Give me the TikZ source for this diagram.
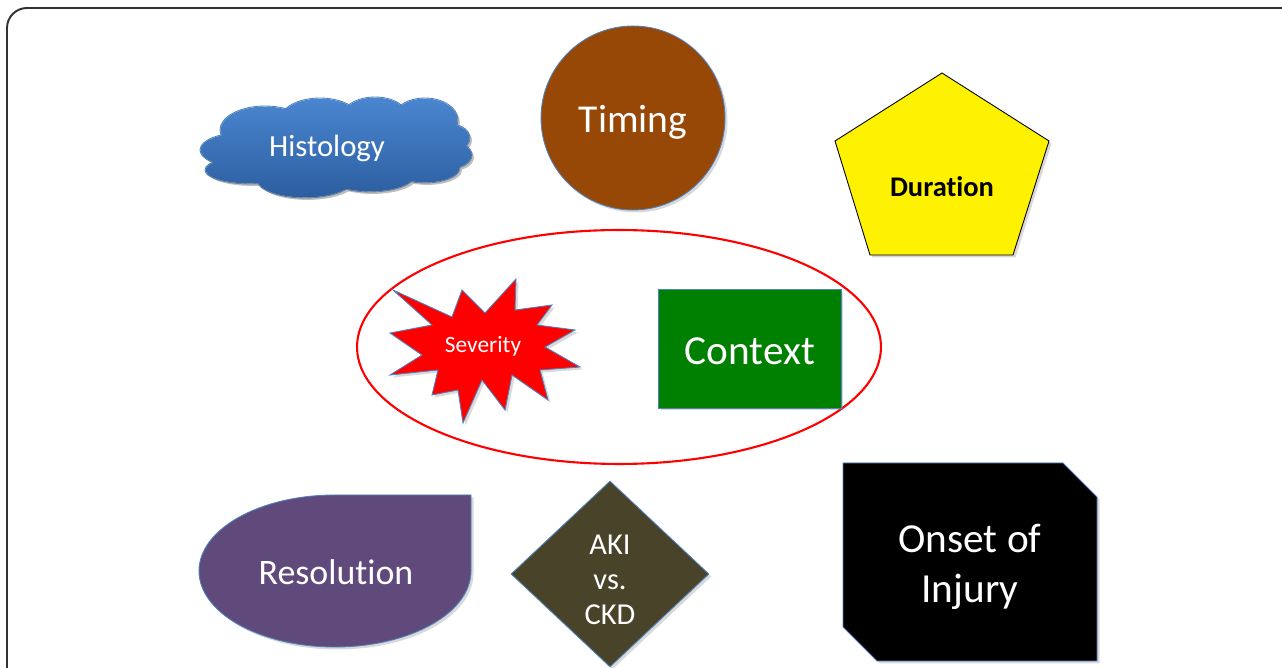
\documentclass[tikz,border=0pt]{standalone}
\usepackage{fontspec}
\setmainfont[Ligatures=NoCommon]{Carlito}
\usetikzlibrary{
  shapes.geometric,
  shadows,
}

\definecolor{cloudtop}{RGB}{74,134,208}
\definecolor{cloudbot}{RGB}{44,94,160}
\definecolor{timingbrown}{RGB}{151,71,6}
\definecolor{contextgreen}{RGB}{0,128,0}
\definecolor{resolvepurple}{RGB}{96,74,123}
\definecolor{akiolive}{RGB}{73,68,41}
\definecolor{edgeblue}{RGB}{79,129,189}
\definecolor{framegray}{RGB}{50,50,50}

\begin{document}
\begin{tikzpicture}[
  x=0.02cm, y=-0.02cm,
  edge/.style={draw=edgeblue, line width=0.5pt},
  shade/.style={drop shadow={opacity=0.3, shadow xshift=0.05cm, shadow yshift=-0.05cm}},
  whitetext/.style={text=white, align=center},
  bigfont/.style={font=\fontsize{22.5}{28}\selectfont},
]
   \useasboundingbox (0,0) rectangle (1282,668);
   \draw[framegray, line width=1.1pt, rounded corners=0.4cm] (7,8) rectangle (1320,700);

   % cloud built from puffs
   \def\puffs{240/150/40/17, 250/170/45/14, 265/130/45/24, 320/120/40/22, 375/117/33/20,
     425/120/33/22, 450/138/20/14, 450/155/22/14, 425/168/35/15, 370/175/45/17,
     305/180/48/18, 340/150/100/35}
   \foreach \px/\py/\rx/\ry in \puffs
     \draw[edge] (\px,\py) ellipse [x radius=\rx, y radius=\ry];
   \shade[top color=cloudtop, bottom color=cloudbot, shade]
     \foreach \px/\py/\rx/\ry in \puffs {(\px,\py) ellipse [x radius=\rx-0.6, y radius=\ry-0.6]};
   \node[whitetext, font=\fontsize{17.5}{21}\selectfont] (histology) at (327,148) {Histology};

   \node[circle, minimum size=3.68cm, edge, fill=timingbrown, shade] (disc) at (633,118) {};
   \node[whitetext, bigfont] (timing) at (633,122) {Timing};

   \draw[black, line width=0.5pt, fill=yellow, shade]
     (942,73) -- (1049,141) -- (1013,255) -- (870,255) -- (835,141) -- cycle;
   \node[font=\bfseries\fontsize{16.2}{20}\selectfont] (duration) at (942,187) {Duration};

   \node[ellipse, draw=red, line width=1.2pt, minimum width=10.48cm, minimum height=4.68cm]
     (core) at (619,347) {};

   \draw[edge, fill=red, shade]
     (393,290) -- (452,317) -- (462,290) -- (485,313) -- (516,279) -- (515,310)
     -- (552,305) -- (537,325) -- (575,330) -- (545,347) -- (580,367) -- (540,370)
     -- (548,400) -- (512,375) -- (505,410) -- (482,380) -- (463,423) -- (458,390)
     -- (432,395) -- (438,370) -- (390,375) -- (422,355) -- (390,333) -- (432,325) -- cycle;
   \node[whitetext, font=\fontsize{13.3}{16}\selectfont] (severity) at (483,346) {Severity};

   \node[rectangle, minimum width=3.66cm, minimum height=2.38cm, edge, fill=contextgreen,
     shade] (box) at (749.5,348.5) {};
   \node[whitetext, font=\fontsize{23.5}{28}\selectfont] (context) at (750,351) {Context};

   \draw[edge, fill=resolvepurple, shade]
     (471,495) -- (471,571) arc (0:270:136 and 76) -- cycle;
   \node[whitetext, font=\fontsize{20.4}{24}\selectfont] (resolution) at (336,572) {Resolution};

   \node[diamond, minimum width=3.96cm, minimum height=3.72cm, inner sep=0pt, edge,
     fill=akiolive, shade] (rhomb) at (610,574) {};
   \node[whitetext, font=\fontsize{17.3}{19.8}\selectfont] (akickd) at (610,580) {AKI\\vs.\\CKD};

   \draw[edge, fill=black, shade]
     (843,463) -- (1063,463) -- (1097,497) -- (1097,661) -- (877,661) -- (843,627) -- cycle;
   \node[whitetext, font=\fontsize{23.5}{28.5}\selectfont] (onset) at (970,567) {Onset of\\Injury};
\end{tikzpicture}
\end{document}
